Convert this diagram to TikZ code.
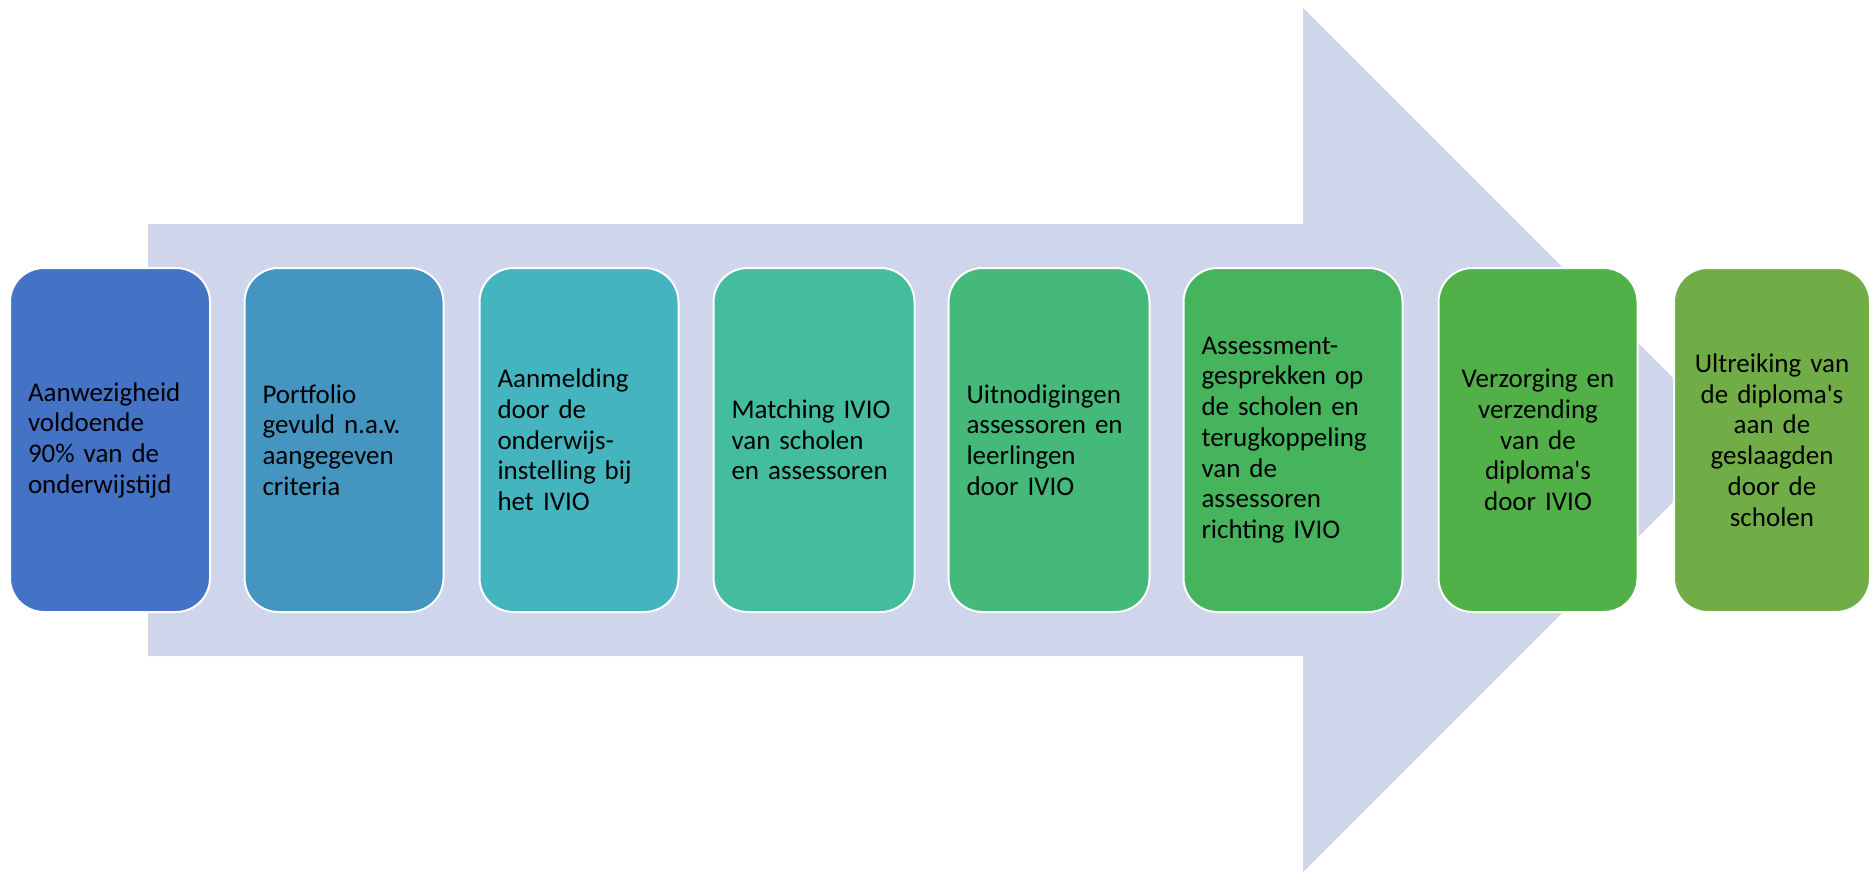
\documentclass[tikz,border=0pt]{standalone}
\usepackage{fontspec}
\newfontfamily\stepfont{Carlito}

\definecolor{arrowfill}{HTML}{CFD5EA}
\definecolor{stepA}{HTML}{4472C4}
\definecolor{stepB}{HTML}{4496C0}
\definecolor{stepC}{HTML}{44B5BE}
\definecolor{stepD}{HTML}{44BC9E}
\definecolor{stepE}{HTML}{44B97A}
\definecolor{stepF}{HTML}{45B45C}
\definecolor{stepG}{HTML}{52B048}
\definecolor{stepH}{HTML}{70AD47}

\tikzset{
  stepbox/.style={rounded corners=34pt, draw=white, line width=2pt,
    minimum height=344pt, inner xsep=18pt, inner ysep=0pt,
    font=\stepfont\fontsize{27}{30.7}\selectfont, text=black}
}

\begin{document}
\begin{tikzpicture}[x=1pt,y=-1pt]
\useasboundingbox (0,0) rectangle (1872,872);

% The big arrow behind the steps
\fill [arrowfill] (148,224) -- (1303,224) -- (1303,8) -- (1735,440)
  -- (1303,872) -- (1303,656) -- (148,656) -- cycle;

% The eight steps, left to right
\foreach \n/\x/\w/\col/\al/\txt in {
  1/110/164/stepA/\raggedright/{Aanwezigheid\\voldoende\\90\% van de\\onderwijstijd},
  2/344/163/stepB/\raggedright/{Portfolio\\gevuld n.a.v.\\aangegeven\\criteria},
  3/579/163/stepC/\raggedright/{Aanmelding\\door de\\onderwijs-\\instelling bij\\het IVIO},
  4/814/165/stepD/\raggedright/{Matching IVIO\\van scholen\\en assessoren},
  5/1049/165/stepE/\raggedright/{Uitnodigingen\\assessoren en\\leerlingen\\door IVIO},
  6/1293/183/stepF/\raggedright/{Assessment-\\gesprekken op\\de scholen en\\terugkoppeling\\van de\\assessoren\\richting IVIO},
  7/1538/163/stepG/\centering/{Verzorging en\\verzending\\van de\\diploma's\\door IVIO},
  8/1772/160/stepH/\centering/{Ultreiking van\\de diploma's\\aan de\\geslaagden\\door de\\scholen}} {
  \node [stepbox, fill=\col, text width=\w pt] (step\n) at (\x,440) {\al\txt\par};
}
\end{tikzpicture}
\end{document}
